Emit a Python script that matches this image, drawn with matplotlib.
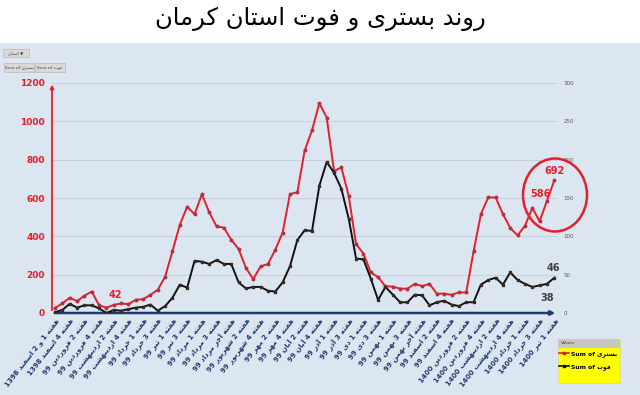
import matplotlib
matplotlib.use("Agg")
import matplotlib.pyplot as plt
from matplotlib.patches import Rectangle, Ellipse
from matplotlib.lines import Line2D
import numpy as np

# ---------------- data ----------------
title_text = "روند بستری و فوت استان کرمان"

week_labels = [
    "هفته 1 و 2 اسفند 1398", "هفته 4 اسفند 1398", "هفته 2 فروردین 99", "هفته 4 فروردین 99",
    "هفته 2 اردیبهشت 99", "هفته 4 اردیبهشت 99", "هفته 1 خرداد 99", "هفته 3 خرداد 99",
    "هفته 1 تیر 99", "هفته 3 تیر 99", "هفته 1 مرداد 99", "هفته 3 مرداد 99",
    "هفته آخر مرداد 99", "هفته 2 شهریور 99", "هفته 4 شهریور 99", "هفته 2 مهر 99",
    "هفته 4 مهر 99", "هفته 2 آبان 99", "هفته 4 آبان 99", "هفته 1 آذر 99",
    "هفته 3 آذر 99", "هفته 1 دی 99", "هفته 3 دی 99", "هفته 1 بهمن 99",
    "هفته 3 بهمن 99", "هفته آخر بهمن 99", "هفته 2 اسفند 99", "هفته 4 اسفند 99",
    "هفته 2 فروردین 1400", "هفته 4 فروردین 1400", "هفته 2 اردیبهشت 1400", "هفته 4 اردیبهشت 1400",
    "هفته 1 خرداد 1400", "هفته 3 خرداد 1400", "هفته 1 تیر 1400",
]

hospitalized = [
    26, 50, 80, 62, 90, 112, 40, 28, 42, 50, 46, 69, 72, 95, 121, 190, 323, 460,
    555, 515, 620, 525, 452, 445, 382, 334, 235, 177, 243, 256, 330, 420, 621, 629,
    848, 953, 1095, 1020, 740, 760, 610, 360, 310, 212, 187, 139, 138, 127, 127, 152,
    140, 152, 101, 101, 95, 107, 107, 321, 516, 603, 603, 516, 443, 405, 455, 548,
    478, 586, 692,
]

deaths = [
    1, 4, 12, 7, 10, 10, 6, 0, 4, 3, 5, 7, 8, 11, 3, 9, 20, 37,
    33, 68, 67, 64, 69, 64, 64, 40, 32, 34, 34, 29, 28, 40, 61, 95,
    108, 107, 166, 197, 183, 162, 123, 71, 70, 45, 17, 34, 24, 14, 14, 24,
    23, 10, 14, 16, 11, 9, 14, 14, 37, 43, 46, 37, 53, 43, 38, 34,
    36, 38, 46,
]

left_ticks = [0, 200, 400, 600, 800, 1000, 1200]
right_ticks = [0, 50, 100, 150, 200, 250, 300]
series_names = ["Sum of بستری", "Sum of فوت"]
legend_title = "Values"

# ---------------- simple Persian shaping (display only) ----------------
F = {
    'ا': ('\uFE8D', '\uFE8E', None, None), 'آ': ('\uFE81', '\uFE82', None, None),
    'ب': ('\uFE8F', '\uFE90', '\uFE91', '\uFE92'), 'پ': ('\uFB56', '\uFB57', '\uFB58', '\uFB59'),
    'ت': ('\uFE95', '\uFE96', '\uFE97', '\uFE98'), 'ث': ('\uFE99', '\uFE9A', '\uFE9B', '\uFE9C'),
    'ج': ('\uFE9D', '\uFE9E', '\uFE9F', '\uFEA0'), 'چ': ('\uFB7A', '\uFB7B', '\uFB7C', '\uFB7D'),
    'ح': ('\uFEA1', '\uFEA2', '\uFEA3', '\uFEA4'), 'خ': ('\uFEA5', '\uFEA6', '\uFEA7', '\uFEA8'),
    'د': ('\uFEA9', '\uFEAA', None, None), 'ذ': ('\uFEAB', '\uFEAC', None, None),
    'ر': ('\uFEAD', '\uFEAE', None, None), 'ز': ('\uFEAF', '\uFEB0', None, None),
    'ژ': ('\uFB8A', '\uFB8B', None, None),
    'س': ('\uFEB1', '\uFEB2', '\uFEB3', '\uFEB4'), 'ش': ('\uFEB5', '\uFEB6', '\uFEB7', '\uFEB8'),
    'ص': ('\uFEB9', '\uFEBA', '\uFEBB', '\uFEBC'), 'ض': ('\uFEBD', '\uFEBE', '\uFEBF', '\uFEC0'),
    'ط': ('\uFEC1', '\uFEC2', '\uFEC3', '\uFEC4'), 'ظ': ('\uFEC5', '\uFEC6', '\uFEC7', '\uFEC8'),
    'ع': ('\uFEC9', '\uFECA', '\uFECB', '\uFECC'), 'غ': ('\uFECD', '\uFECE', '\uFECF', '\uFED0'),
    'ف': ('\uFED1', '\uFED2', '\uFED3', '\uFED4'), 'ق': ('\uFED5', '\uFED6', '\uFED7', '\uFED8'),
    'ک': ('\uFB8E', '\uFB8F', '\uFB90', '\uFB91'), 'گ': ('\uFB92', '\uFB93', '\uFB94', '\uFB95'),
    'ل': ('\uFEDD', '\uFEDE', '\uFEDF', '\uFEE0'), 'م': ('\uFEE1', '\uFEE2', '\uFEE3', '\uFEE4'),
    'ن': ('\uFEE5', '\uFEE6', '\uFEE7', '\uFEE8'), 'و': ('\uFEED', '\uFEEE', None, None),
    'ه': ('\uFEE9', '\uFEEA', '\uFEEB', '\uFEEC'), 'ی': ('\uFBFC', '\uFBFD', '\uFBFE', '\uFBFF'),
}


def shape_word(w):
    out = []
    n = len(w)
    for k, ch in enumerate(w):
        if ch not in F:
            out.append(ch)
            continue
        iso, fin, ini, med = F[ch]
        prev = w[k - 1] if k > 0 else None
        nxt = w[k + 1] if k < n - 1 else None
        jp = prev in F and F[prev][2] is not None
        jn = nxt in F and ini is not None
        if jp and jn:
            out.append(med)
        elif jp:
            out.append(fin)
        elif jn:
            out.append(ini)
        else:
            out.append(iso)
    s = ''.join(out)
    if any(c in F for c in w):
        s = s[::-1]
    return s


def rtl(s):
    return ' '.join(shape_word(t) for t in reversed(s.split(' ')))


def ltr(s):
    return ' '.join(shape_word(t) for t in s.split(' '))


# ---------------- figure ----------------
W, H = 640, 395
fig = plt.figure(figsize=(W / 100, H / 100), dpi=100)
fig.patch.set_facecolor('white')
BG = '#dce6f1'
fig.patches.append(Rectangle((0, 0), 1, 1 - 43 / H, transform=fig.transFigure,
                             facecolor=BG, edgecolor='none', zorder=-10))

fig.text(0.5, 1 - 19 / H, rtl(title_text), ha='center', va='center',
         fontsize=17.5, family='DejaVu Sans', color='black')


def px(x, y):
    return x / W, 1 - y / H


ax_l, ax_r, ax_b, ax_t = 52, 558, 313, 83
ax = fig.add_axes([ax_l / W, 1 - ax_b / H, (ax_r - ax_l) / W, (ax_b - ax_t) / H])
ax.set_facecolor('none')
ax2 = ax.twinx()

x = np.arange(len(hospitalized))
RED = '#e3202a'
NAVY = '#1f3a6e'

ax.plot(x, hospitalized, color=RED, lw=1.4, marker='o', ms=1.8,
        mfc='#b0304a', mec='#b0304a', zorder=4)
ax2.plot(x, deaths, color='#111111', lw=1.4, marker='s', ms=1.5,
         mfc='#3a2a20', mec='#3a2a20', zorder=4)

ax.set_xlim(-0.41, 68.5)
ax.set_ylim(0, 1200)
ax2.set_ylim(0, 300)

ax.set_yticks(left_ticks)
ax.set_yticklabels([str(v) for v in left_ticks])
ax2.set_yticks(right_ticks)
ax2.set_yticklabels([str(v) for v in right_ticks])

for a in (ax, ax2):
    for s in a.spines.values():
        s.set_visible(False)

ax.tick_params(axis='y', length=0, pad=5, labelcolor=RED, labelsize=6.5)
for t in ax.get_yticklabels():
    t.set_fontweight('bold')
    t.set_family(['Liberation Sans Narrow', 'DejaVu Sans'])
ax2.tick_params(axis='y', length=0, pad=4, labelcolor='#5a5a5a', labelsize=4)

tick_pos = x[::2]
ax.set_xticks(tick_pos)
ax.set_xticklabels([rtl(s) for s in week_labels], rotation=52, ha='right', va='top',
                   rotation_mode='anchor', fontsize=5, fontweight='bold', color=NAVY)
ax.tick_params(axis='x', length=0, pad=3)

ax.grid(axis='y', color='#c3ccd7', lw=0.6)
ax.set_axisbelow(True)

# axis arrows
ax.annotate('', xy=(0, 1.005), xytext=(0, 0), xycoords='axes fraction',
            arrowprops=dict(arrowstyle='-|>', color=RED, lw=1.3, mutation_scale=5))
ax.annotate('', xy=(1, 0), xytext=(0, 0), xycoords='axes fraction',
            arrowprops=dict(arrowstyle='-|>', color=NAVY, lw=1.8, mutation_scale=6))

# value annotations
ann_font = ['Liberation Sans Narrow', 'DejaVu Sans']
ax.annotate(str(hospitalized[8]), xy=(8, hospitalized[8]), xytext=(1, 7), textcoords='offset points',
            ha='center', va='center', color=RED, fontsize=7, fontweight='bold', family=ann_font)
ax.annotate(str(hospitalized[67]), xy=(67, hospitalized[67]), xytext=(-4.5, 5), textcoords='offset points',
            ha='center', va='center', color=RED, fontsize=7, fontweight='bold', family=ann_font)
ax.annotate(str(hospitalized[68]), xy=(68, hospitalized[68]), xytext=(0, 7), textcoords='offset points',
            ha='center', va='center', color=RED, fontsize=7, fontweight='bold', family=ann_font)
ax2.annotate(str(deaths[68]), xy=(68, deaths[68]), xytext=(-0.5, 7), textcoords='offset points',
             ha='center', va='center', color='#404040', fontsize=7, fontweight='bold', family=ann_font)
ax2.annotate(str(deaths[67]), xy=(67, deaths[67]), xytext=(0, -10), textcoords='offset points',
             ha='center', va='center', color='#404040', fontsize=7, fontweight='bold', family=ann_font)

# red highlight circle
cx, cy = px(555, 195)
fig.patches.append(Ellipse((cx, cy), 64 / W, 73 / H, transform=fig.transFigure,
                           fill=False, edgecolor=RED, lw=1.8, zorder=20))

# pivot-table buttons (top-left)
def button(x0, y0, w, h, txt):
    bx, by = px(x0, y0 + h)
    fig.patches.append(Rectangle((bx, by), w / W, h / H, transform=fig.transFigure,
                                 facecolor='#d9d9d9', edgecolor='#b0b0b0', lw=0.4))
    fig.text((x0 + w / 2) / W, 1 - (y0 + h / 2) / H, txt, ha='center', va='center',
             fontsize=3.2, color='#404040', family='DejaVu Sans')

button(3, 49, 26, 8, rtl("استان") + " ▼")
button(4, 63, 30, 9, ltr(series_names[0]))
button(35, 63, 30, 9, ltr(series_names[1]))

# legend box
lx0, ly0, lw_, lh_ = 558, 339, 62, 44
bx, by = px(lx0, ly0 + lh_)
fig.patches.append(Rectangle((bx, by), lw_ / W, lh_ / H, transform=fig.transFigure,
                             facecolor='#ffff00', edgecolor='#d8d8a0', lw=0.5, zorder=5))
bx, by = px(lx0, ly0 + 9)
fig.patches.append(Rectangle((bx, by), lw_ / W, 9 / H, transform=fig.transFigure,
                             facecolor='#c8c8c0', edgecolor='none', zorder=6))
fig.text((lx0 + 3) / W, 1 - (ly0 + 4.5) / H, legend_title, ha='left', va='center',
         fontsize=3.2, color='#404040', zorder=7)
h_red = Line2D([], [], color=RED, lw=1.2, marker='o', ms=1.8, mfc='#b0304a', mec='#b0304a')
h_blk = Line2D([], [], color='#111111', lw=1.2, marker='s', ms=1.5)
leg = fig.legend([h_red, h_blk], [ltr(s) for s in series_names], loc='upper left',
                 bbox_to_anchor=px(lx0 + 1, ly0 + 12), frameon=False, fontsize=4.3,
                 handlelength=1.7, handletextpad=0.3, labelspacing=1.1, borderpad=0,
                 borderaxespad=0)
leg.set_zorder(8)
for t in leg.get_texts():
    t.set_fontweight('bold')

fig.savefig('out.png', dpi=100, facecolor=fig.get_facecolor())
